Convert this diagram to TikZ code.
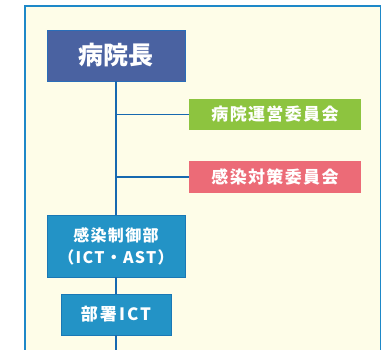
\documentclass[tikz,border=0pt]{standalone}
\usepackage{fontspec}
\setmainfont{Noto Sans CJK JP}
\definecolor{framebg}{HTML}{FEFDE8}
\definecolor{frameline}{HTML}{1E88C8}
\definecolor{headfill}{HTML}{4A62A1}
\definecolor{headline}{HTML}{2A6DB8}
\definecolor{unitfill}{HTML}{2393C6}
\definecolor{unitline}{HTML}{1A78B5}
\definecolor{greenfill}{HTML}{8DC43F}
\definecolor{pinkfill}{HTML}{EC6B77}
\definecolor{conn}{HTML}{1769B0}
\begin{document}
\begin{tikzpicture}[x=1pt,y=-1pt,
  box/.style={inner sep=0pt,text=white,align=center},
  link/.style={draw=conn,line width=1.6pt}]
\useasboundingbox (0,0) rectangle (383,350);
\fill[white] (0,0) rectangle (383,350);
\draw[frameline,line width=1.6pt,fill=framebg] (25,360) -- (25,6) -- (380.5,6) -- (380.5,360);
% nodes
\node[box,draw=headline,line width=0.8pt,fill=headfill,minimum width=138pt,minimum height=51pt,font=\bfseries\fontsize{25}{28}\selectfont] (head) at (116,55.5) {病院長};
\node[box,fill=greenfill,minimum width=172pt,minimum height=31pt,font=\bfseries\fontsize{17}{20}\selectfont\addfontfeature{LetterSpace=8}] (mgmt) at (275,114.5) {病院運営委員会};
\node[box,fill=pinkfill,minimum width=172pt,minimum height=31pt,font=\bfseries\fontsize{17}{20}\selectfont\addfontfeature{LetterSpace=8}] (infc) at (275,177) {感染対策委員会};
\node[box,draw=unitline,line width=0.8pt,fill=unitfill,minimum width=138pt,minimum height=62pt,font=\bfseries\fontsize{16}{22}\selectfont\addfontfeature{LetterSpace=8}] (ctrl) at (116,246) {感染制御部\\（ICT・AST）};
\node[box,draw=unitline,line width=0.8pt,fill=unitfill,minimum width=110pt,minimum height=41pt,font=\bfseries\fontsize{17}{20}\selectfont\addfontfeature{LetterSpace=12}] (dept) at (116,314.5) {部署ICT};
\coordinate (j1) at (116,114.5);
\coordinate (j2) at (116,177);
\coordinate (bot) at (116,352);
% connectors
\draw[link] (head.south) -- (ctrl.north);
\draw[link] (j1) -- (mgmt.west);
\draw[link] (j2) -- (infc.west);
\draw[link] (ctrl.south) -- (dept.north);
\draw[link] (dept.south) -- (bot);
\end{tikzpicture}
\end{document}
